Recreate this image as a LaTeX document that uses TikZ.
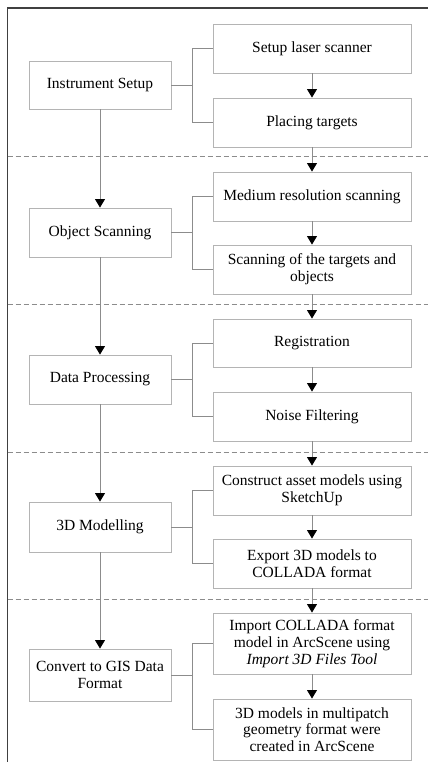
\documentclass[tikz,border=0pt]{standalone}
\usepackage{fontspec}
\setmainfont{Liberation Serif}
\usetikzlibrary{arrows.meta,positioning}

\definecolor{boxgray}{HTML}{B4B4B4}
\definecolor{linegray}{HTML}{8C8C8C}

\tikzstyle{phase} = [draw=boxgray, line width=0.9pt, minimum width=142pt, align=center, inner sep=2pt]
\tikzstyle{task} = [draw=boxgray, line width=0.9pt, minimum width=198pt, align=center, inner sep=2pt]
\tikzstyle{flow} = [draw=linegray, line width=0.8pt, -{Triangle[width=10pt,length=8.5pt,black]}]
\tikzstyle{link} = [draw=linegray, line width=0.8pt]
\tikzstyle{sep} = [draw=linegray, line width=0.8pt, dash pattern=on 5pt off 3pt]

\begin{document}
\begin{tikzpicture}[x=1pt, y=-1pt, font=\fontsize{15.5}{16.8}\selectfont]
\useasboundingbox (0,0) rectangle (428,762);

% frame
\draw[draw=black!75, line width=1.3pt] (7.5,762) -- (7.5,8) -- (428,8);

% separators
\foreach \y in {156,304,452,599}
    \draw[sep] (7.5,\y) -- (428,\y);

% phases
\node[phase, minimum height=48pt] (inst) at (100,85) {Instrument Setup};
\node[phase, minimum height=49pt] (scan) at (100,232.5) {Object Scanning};
\node[phase, minimum height=49pt] (proc) at (100,379.5) {Data Processing};
\node[phase, minimum height=50pt] (model) at (100,527) {3D Modelling};
\node[phase, minimum height=52pt] (gis) at (100,675) {Convert to GIS Data\\Format};

% tasks
\node[task, minimum height=49pt] (laser) at (312,48.5) {Setup laser scanner};
\node[task, minimum height=49pt] (targets) at (312,122.5) {Placing targets};
\node[task, minimum height=49pt] (medium) at (312,196.5) {Medium resolution scanning};
\node[task, minimum height=49pt] (objects) at (312,269.5) {Scanning of the targets and\\objects};
\node[task, minimum height=48pt] (regis) at (312,343) {Registration};
\node[task, minimum height=49pt] (noise) at (312,416.5) {Noise Filtering};
\node[task, minimum height=49pt] (asset) at (312,490.5) {Construct asset models using\\SketchUp};
\node[task, minimum height=49pt] (export) at (312,563.5) {Export 3D models to\\COLLADA format};
\node[task, minimum height=61pt] (import) at (312,643.5) {Import COLLADA format\\model in ArcScene using\\\textit{Import 3D Files Tool}};
\node[task, minimum height=61pt] (patch) at (312,729.5) {3D models in multipatch\\geometry format were\\created in ArcScene};

% brackets
\foreach \p/\a/\b in {inst/laser/targets, scan/medium/objects, proc/regis/noise, model/asset/export, gis/import/patch} {
    \coordinate (j-\p) at ([xshift=21pt]\p.east);
    \draw[link] (\p.east) -- (j-\p);
    \draw[link] (\a.west) -| (j-\p) |- (\b.west);
}

% arrows
\draw[flow] (inst) -- (scan);
\draw[flow] (scan) -- (proc);
\draw[flow] (proc) -- (model);
\draw[flow] (model) -- (gis);
\draw[flow] (laser) -- (targets);
\draw[flow] (targets) -- (medium);
\draw[flow] (medium) -- (objects);
\draw[flow] (objects) -- (regis);
\draw[flow] (regis) -- (noise);
\draw[flow] (noise) -- (asset);
\draw[flow] (asset) -- (export);
\draw[flow] (export) -- (import);
\draw[flow] (import) -- (patch);
\end{tikzpicture}
\end{document}
